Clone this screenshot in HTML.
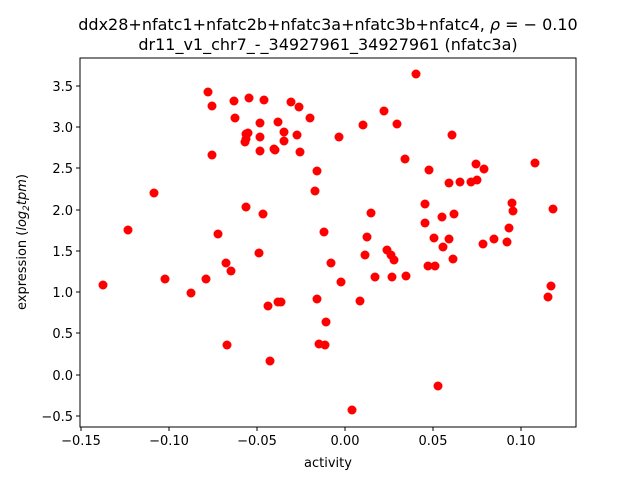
<!DOCTYPE html>
<html><head><meta charset="utf-8"><style>body{margin:0;background:#fff}svg{display:block}text{font-family:"DejaVu Sans","Liberation Sans",sans-serif;fill:#000}</style></head><body>
<svg width="640" height="480" viewBox="0 0 640 480" xmlns="http://www.w3.org/2000/svg">
<rect width="640" height="480" fill="#fff"/>
<text x="328" y="30" font-size="16" text-anchor="middle">ddx28+nfatc1+nfatc2b+nfatc3a+nfatc3b+nfatc4, <tspan font-style="italic">ρ</tspan> = − 0.10</text>
<text x="328" y="50" font-size="16" text-anchor="middle">dr11_v1_chr7_-_34927961_34927961 (nfatc3a)</text>
<g fill="#ff0000">
<circle cx="103" cy="285" r="4.5"/><circle cx="128" cy="230" r="4.5"/><circle cx="154" cy="193" r="4.5"/><circle cx="165" cy="279" r="4.5"/><circle cx="191" cy="293" r="4.5"/><circle cx="206" cy="279" r="4.5"/><circle cx="208" cy="92" r="4.5"/><circle cx="212" cy="106" r="4.5"/><circle cx="212" cy="155" r="4.5"/><circle cx="218" cy="234" r="4.5"/><circle cx="226" cy="263" r="4.5"/><circle cx="227" cy="345" r="4.5"/><circle cx="231" cy="271" r="4.5"/><circle cx="234" cy="101" r="4.5"/><circle cx="235" cy="118" r="4.5"/><circle cx="245" cy="142" r="4.5"/><circle cx="246" cy="207" r="4.5"/><circle cx="246" cy="134" r="4.5"/><circle cx="246" cy="139" r="4.5"/><circle cx="248" cy="133" r="4.5"/><circle cx="249" cy="98" r="4.5"/><circle cx="259" cy="253" r="4.5"/><circle cx="260" cy="151" r="4.5"/><circle cx="260" cy="137" r="4.5"/><circle cx="260" cy="123" r="4.5"/><circle cx="263" cy="214" r="4.5"/><circle cx="264" cy="100" r="4.5"/><circle cx="268" cy="306" r="4.5"/><circle cx="270" cy="361" r="4.5"/><circle cx="274" cy="149" r="4.5"/><circle cx="275" cy="150" r="4.5"/><circle cx="278" cy="122" r="4.5"/><circle cx="278" cy="302" r="4.5"/><circle cx="281" cy="302" r="4.5"/><circle cx="284" cy="132" r="4.5"/><circle cx="284" cy="141" r="4.5"/><circle cx="291" cy="102" r="4.5"/><circle cx="297" cy="135" r="4.5"/><circle cx="299" cy="107" r="4.5"/><circle cx="300" cy="152" r="4.5"/><circle cx="310" cy="118" r="4.5"/><circle cx="315" cy="191" r="4.5"/><circle cx="317" cy="171" r="4.5"/><circle cx="317" cy="299" r="4.5"/><circle cx="319" cy="344" r="4.5"/><circle cx="324" cy="232" r="4.5"/><circle cx="325" cy="345" r="4.5"/><circle cx="326" cy="322" r="4.5"/><circle cx="331" cy="263" r="4.5"/><circle cx="339" cy="137" r="4.5"/><circle cx="341" cy="282" r="4.5"/><circle cx="352" cy="410" r="4.5"/><circle cx="360" cy="301" r="4.5"/><circle cx="363" cy="125" r="4.5"/><circle cx="365" cy="255" r="4.5"/><circle cx="367" cy="237" r="4.5"/><circle cx="371" cy="213" r="4.5"/><circle cx="375" cy="277" r="4.5"/><circle cx="384" cy="111" r="4.5"/><circle cx="387" cy="250" r="4.5"/><circle cx="391" cy="255" r="4.5"/><circle cx="392" cy="277" r="4.5"/><circle cx="394" cy="260" r="4.5"/><circle cx="397" cy="124" r="4.5"/><circle cx="405" cy="159" r="4.5"/><circle cx="406" cy="276" r="4.5"/><circle cx="416" cy="74" r="4.5"/><circle cx="425" cy="204" r="4.5"/><circle cx="425" cy="223" r="4.5"/><circle cx="428" cy="266" r="4.5"/><circle cx="429" cy="170" r="4.5"/><circle cx="434" cy="238" r="4.5"/><circle cx="435" cy="266" r="4.5"/><circle cx="438" cy="386" r="4.5"/><circle cx="442" cy="217" r="4.5"/><circle cx="443" cy="247" r="4.5"/><circle cx="449" cy="239" r="4.5"/><circle cx="449" cy="183" r="4.5"/><circle cx="452" cy="135" r="4.5"/><circle cx="453" cy="259" r="4.5"/><circle cx="454" cy="214" r="4.5"/><circle cx="460" cy="182" r="4.5"/><circle cx="471" cy="182" r="4.5"/><circle cx="476" cy="164" r="4.5"/><circle cx="477" cy="180" r="4.5"/><circle cx="483" cy="244" r="4.5"/><circle cx="484" cy="169" r="4.5"/><circle cx="494" cy="239" r="4.5"/><circle cx="507" cy="242" r="4.5"/><circle cx="509" cy="228" r="4.5"/><circle cx="512" cy="203" r="4.5"/><circle cx="513" cy="211" r="4.5"/><circle cx="535" cy="163" r="4.5"/><circle cx="548" cy="297" r="4.5"/><circle cx="551" cy="286" r="4.5"/><circle cx="553" cy="209" r="4.5"/>
</g>
<rect x="80" y="58" width="496" height="369" fill="none" stroke="#000" stroke-width="1"/>
<g stroke="#000" stroke-width="1">
<line x1="81" y1="427" x2="81" y2="431"/><line x1="169" y1="427" x2="169" y2="431"/><line x1="257" y1="427" x2="257" y2="431"/><line x1="345" y1="427" x2="345" y2="431"/><line x1="433" y1="427" x2="433" y2="431"/><line x1="521" y1="427" x2="521" y2="431"/>
<line x1="76" y1="86" x2="80" y2="86"/><line x1="76" y1="127" x2="80" y2="127"/><line x1="76" y1="168" x2="80" y2="168"/><line x1="76" y1="210" x2="80" y2="210"/><line x1="76" y1="251" x2="80" y2="251"/><line x1="76" y1="292" x2="80" y2="292"/><line x1="76" y1="333" x2="80" y2="333"/><line x1="76" y1="375" x2="80" y2="375"/><line x1="76" y1="416" x2="80" y2="416"/>
</g>
<g font-size="13" text-anchor="middle">
<text x="81" y="445">−0.15</text><text x="169" y="445">−0.10</text><text x="257" y="445">−0.05</text><text x="345" y="445">0.00</text><text x="433" y="445">0.05</text><text x="521" y="445">0.10</text>
</g>
<g font-size="13" text-anchor="end">
<text x="73" y="91">3.5</text><text x="73" y="132">3.0</text><text x="73" y="173">2.5</text><text x="73" y="215">2.0</text><text x="73" y="256">1.5</text><text x="73" y="297">1.0</text><text x="73" y="338">0.5</text><text x="73" y="380">0.0</text><text x="73" y="421">−0.5</text>
</g>
<text x="328" y="467" font-size="13" text-anchor="middle">activity</text>
<text transform="translate(26,242) rotate(-90)" font-size="13" text-anchor="middle">expression (<tspan font-style="italic">log</tspan><tspan font-size="9" font-style="italic" dy="3">2</tspan><tspan font-style="italic" dy="-3">tpm</tspan>)</text>
</svg>
</body></html>
